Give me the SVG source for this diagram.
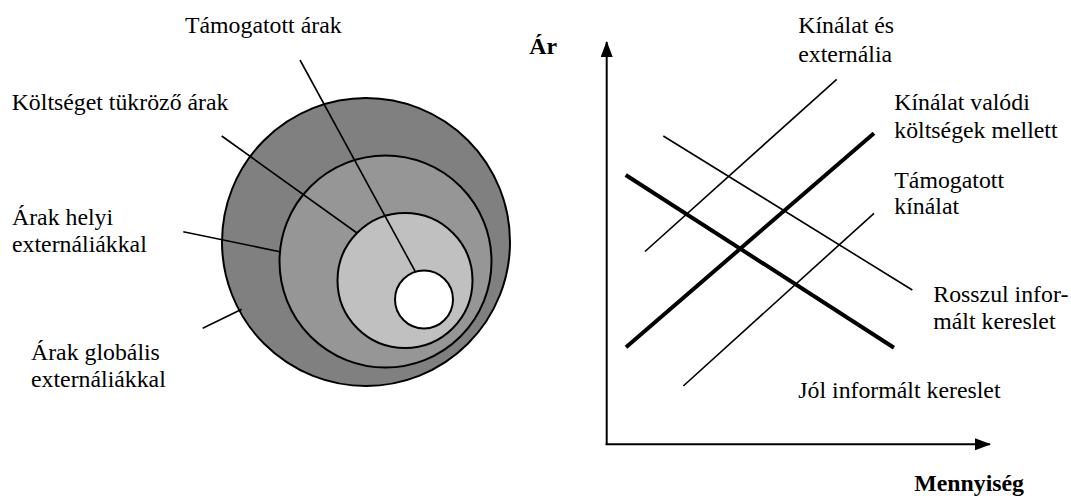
<svg xmlns="http://www.w3.org/2000/svg" width="1071" height="500" viewBox="0 0 1071 500">
<style>
text{font-family:"Liberation Serif","Times New Roman",serif;font-size:23.8px;fill:#000}
.b{font-weight:bold}
.ring{stroke:#000;stroke-width:2}
.lead{stroke:#000;stroke-width:1.6;fill:none}
.thin{stroke:#000;stroke-width:1.6;fill:none}
.thick{stroke:#000;stroke-width:4;fill:none}
.axis{stroke:#000;stroke-width:2;fill:none}
</style>
<defs>
<marker id="arr" viewBox="0 0 16 12" refX="15" refY="6" markerWidth="16" markerHeight="12" markerUnits="userSpaceOnUse" orient="auto">
<path d="M0,0 L16,6 L0,12 Z" fill="#000"/>
</marker>
</defs>
<rect width="1071" height="500" fill="#fff"/>
<g id="circles">
<circle class="ring" cx="366" cy="242" r="144" fill="#808080"/>
<circle class="ring" cx="385.5" cy="261.5" r="106" fill="#969696"/>
<circle class="ring" cx="405" cy="280.5" r="67.5" fill="#c0c0c0"/>
<circle class="ring" cx="424" cy="299.5" r="29" fill="#fff"/>
</g>
<g id="leaders">
<line class="lead" x1="300" y1="60" x2="415" y2="271"/>
<line class="lead" x1="221.7" y1="136" x2="357" y2="233"/>
<line class="lead" x1="183.3" y1="231.7" x2="280" y2="251.7"/>
<line class="lead" x1="202.7" y1="328.3" x2="241.7" y2="309.3"/>
</g>
<g id="label-tamogatott-arak"><text x="185" y="33">Támogatott árak</text></g>
<g id="label-koltseget"><text x="11.7" y="110">Költséget tükröző árak</text></g>
<g id="label-helyi"><text x="12" y="225">Árak helyi</text><text x="12" y="251.5">externáliákkal</text></g>
<g id="label-globalis"><text x="31" y="360">Árak globális</text><text x="31" y="386.7">externáliákkal</text></g>
<g id="axes">
<line class="axis" x1="606.7" y1="445" x2="606.7" y2="42" marker-end="url(#arr)"/>
<line class="axis" x1="605.7" y1="444.3" x2="990" y2="444.3" marker-end="url(#arr)"/>
</g>
<g id="curves">
<line class="thin" x1="645" y1="251.5" x2="836.7" y2="79.3"/>
<line class="thick" x1="626" y1="347.3" x2="874" y2="133.3"/>
<line class="thin" x1="683.3" y1="386" x2="874" y2="213.3"/>
<line class="thick" x1="625.7" y1="175" x2="894" y2="347.7"/>
<line class="thin" x1="663.3" y1="136" x2="912.3" y2="290"/>
</g>
<g id="label-ar"><text class="b" x="529.3" y="54">Ár</text></g>
<g id="label-mennyiseg"><text class="b" x="914.3" y="491">Mennyiség</text></g>
<g id="label-kinalat-es"><text x="798.3" y="33.3">Kínálat és</text><text x="798.3" y="61.7">externália</text></g>
<g id="label-kinalat-valodi"><text x="894.3" y="110">Kínálat valódi</text><text x="894.3" y="137.7">költségek mellett</text></g>
<g id="label-tamogatott-kinalat"><text x="894.3" y="187.7">Támogatott</text><text x="894.3" y="214.3">kínálat</text></g>
<g id="label-rosszul"><text x="933.3" y="301.7">Rosszul infor-</text><text x="933.3" y="329.3">mált kereslet</text></g>
<g id="label-jol"><text x="798.3" y="397.7">Jól informált kereslet</text></g>
</svg>
